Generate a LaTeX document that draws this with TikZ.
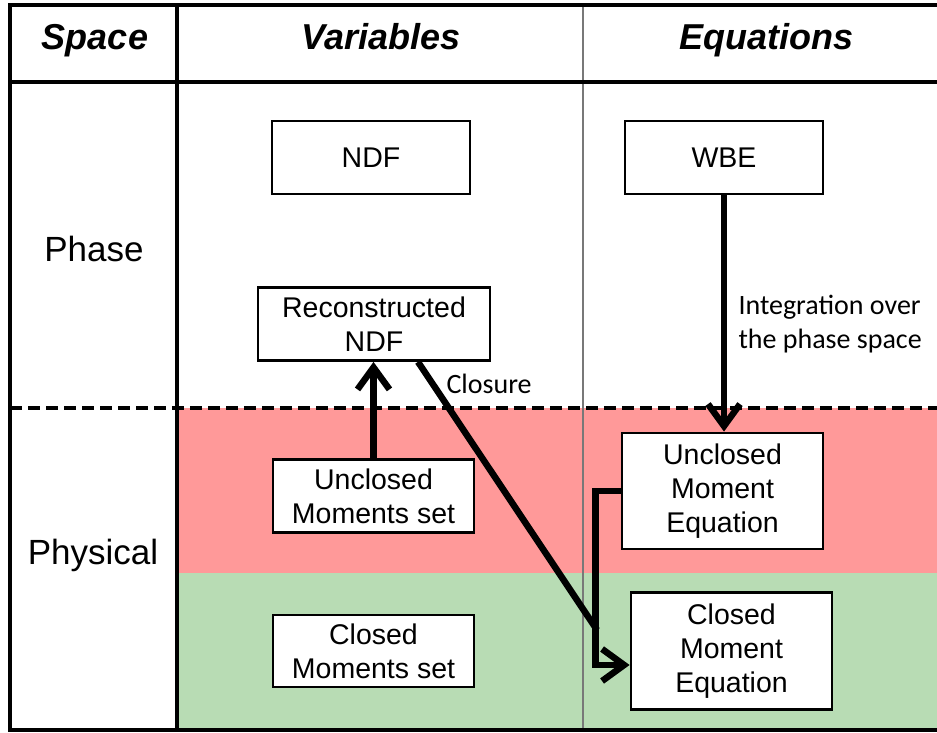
\documentclass[tikz,border=0pt]{standalone}
\usepackage{fontspec}
\setmainfont{Liberation Sans}
\newfontfamily\labelfont{Carlito}
\usetikzlibrary{arrows.meta,calc}

\definecolor{unclosedred}{RGB}{255,153,153}
\definecolor{closedgreen}{RGB}{184,220,180}
\definecolor{colgray}{RGB}{120,120,120}

\tikzset{
  frame/.style={line width=3.5pt},
  head/.style={font=\fontsize{36}{40}\selectfont\bfseries\itshape, anchor=base},
  rowlabel/.style={font=\fontsize{35}{40}\selectfont, anchor=base},
  box/.style={draw, fill=white, line width=2.8pt, align=center,
    inner sep=0pt, font=\fontsize{28.5}{34}\selectfont},
  flow/.style={line width=6.5pt, -{Straight Barb[length=22pt,width=32pt]}},
  plain/.style={line width=6.5pt},
  note/.style={font=\labelfont\fontsize{28}{34}\selectfont, align=left}
}

\begin{document}
\begin{tikzpicture}[x=1pt,y=-1pt]
\useasboundingbox (0,0) rectangle (937,733);

% shaded rows of the physical space
\fill[unclosedred] (177,408) rectangle (937,573);
\fill[closedgreen] (177,573) rectangle (937,730);

% table rules
\draw[colgray, line width=1.5pt] (583,5) -- (583,730);
\draw[frame] (937,5) -- (10,5) -- (10,730) -- (937,730);
\draw[frame] (177,5) -- (177,730);
\draw[line width=4.5pt] (10,82) -- (937,82);
\draw[line width=4pt, dash pattern=on 12pt off 6pt] (10,408) -- (937,408);

% headers and row labels
\node[head] (hspace) at (95,50) {Space};
\node[head] (hvar) at (381,50) {Variables};
\node[head] (heq) at (766,50) {Equations};
\node[rowlabel] (lphase) at (94,261) {Phase};
\node[rowlabel] (lphys) at (93,564) {Physical};

% boxes
\node[box, minimum width=198pt, minimum height=73pt] (ndf) at (371,157.5) {NDF};
\node[box, minimum width=198pt, minimum height=73pt] (wbe) at (724,157.5) {WBE};
\node[box, minimum width=232pt, minimum height=73pt] (rndf) at (374,324) {Reconstructed\\NDF};
\node[box, minimum width=201pt, minimum height=73pt] (ums) at (373.5,496) {Unclosed\\Moments set};
\node[box, minimum width=201pt, minimum height=72pt] (cms) at (373.5,651) {Closed\\Moments set};
\node[box, minimum width=201pt, minimum height=116pt] (ume) at (722.5,491) {Unclosed\\Moment\\Equation};
\node[box, minimum width=201pt, minimum height=117pt] (cme) at (731.5,651) {Closed\\Moment\\Equation};

% connectors
\draw[flow] (wbe.south) -- (wbe.south |- ume.north);
\draw[flow] (ums.north) -- (ums.north |- rndf.south);
\coordinate (join) at (597,630);
\draw[plain] ($(rndf.south)+(44,0)$) -- (join);
\draw[flow, line join=miter] (ume.west) -- ++(-25,0) |- ($(cme.west)+(0,14)$);

% connector labels
\node[note, anchor=base west] (lint) at (735,348) {Integration over\\the phase space};
\node[note, anchor=base west] (lclos) at (443,393) {Closure};
\end{tikzpicture}
\end{document}
